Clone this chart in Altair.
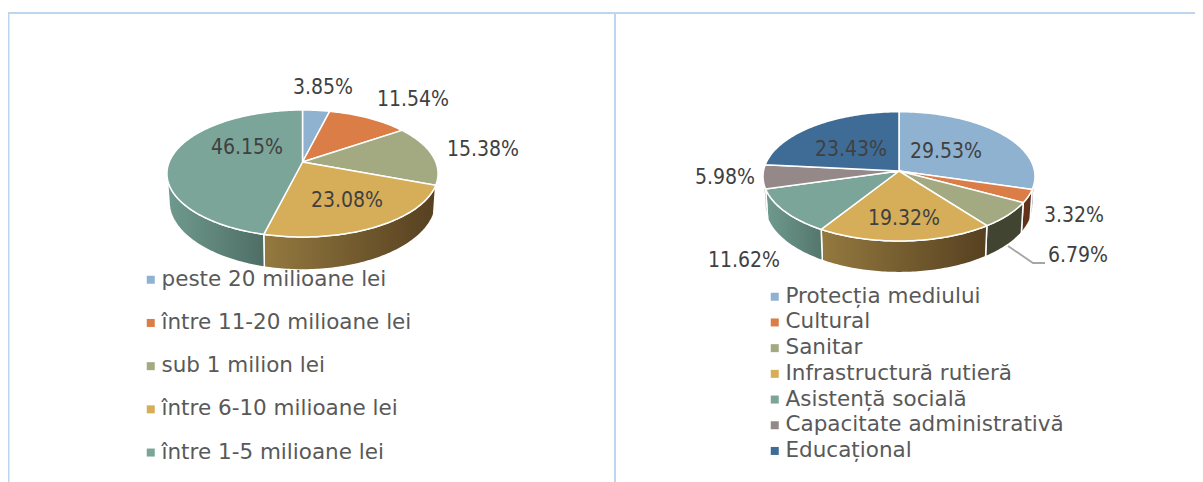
import math
import altair as alt

# ---- data
left_categories = ["peste 20 milioane lei", "între 11-20 milioane lei", "sub 1 milion lei",
                   "între 6-10 milioane lei", "între 1-5 milioane lei"]
left_values = [3.85, 11.54, 15.38, 23.08, 46.15]
right_categories = ["Protecția mediului", "Cultural", "Sanitar", "Infrastructură rutieră",
                    "Asistență socială", "Capacitate administrativă", "Educațional"]
right_values = [29.53, 3.32, 6.79, 19.32, 11.62, 5.98, 23.43]

# ---- styles
left_colors = ["#8FB2D0", "#DB7D46", "#A3AA82", "#D6AE5A", "#7AA598"]
right_colors = ["#8FB2D0", "#DB7D46", "#A3AA82", "#D6AE5A", "#7AA598", "#948888", "#3E6C96"]
left_walls = [("#55697B", "#55697B"), ("#6A3A1E", "#6A3A1E"), ("#40442F", "#40442F"),
              ("#94793F", "#564020"), ("#709A8E", "#4E6E65")]
right_walls = [("#55697B", "#55697B"), ("#62331A", "#62331A"), ("#404430", "#404430"),
               ("#94793F", "#564020"), ("#709A8E", "#54766C"), ("#6F6565", "#6F6565"),
               ("#2E506F", "#2E506F")]
FONT = "DejaVu Sans"
LABEL_FONT = "DejaVu Sans Condensed"
TEXT = "#404040"
LEG = "#595959"
FRAME = "#BDD6EE"
W, H = 1187, 474
OFF = 8  # page margin

# ---- layout (page coordinates)
left_geom = dict(cx=302.5, cy=162, a=133.3, b=61.4, k=0.181, depth=27)
right_geom = dict(cx=899, cy=171, a=135.5, b=64.2, k=0.083, depth=29)
left_label_pos = [(323, 88), (413, 100), (483, 150), (347, 201), (247, 148)]
right_label_pos = [(946, 152), (1074, 216), (1078, 256), (904, 219), (744, 261), (725, 178), (851, 150)]
leader = [(1008, 246), (1033, 263), (1045, 263)]


def rim(g, deg, lower=False):
    t = math.radians(deg)
    u, v = math.sin(t), math.cos(t)
    w = 1 + g["k"] * v
    s = 0.985 if lower else 1.0
    d = g["depth"] if lower else 0
    return [g["cx"] - OFF + s * g["a"] * u / w, g["cy"] - OFF + (d - g["b"] * v) / w]


def arc_range(d0, d1):
    n = max(2, int(abs(d1 - d0)) + 2)
    return [d0 + (d1 - d0) * i / (n - 1) for i in range(n)]


def bounds(values):
    total = sum(values)
    out, c = [], 0.0
    for x in values:
        out.append((c / total * 360, (c + x) / total * 360))
        c += x
    return out


def feature(ring, **props):
    return {"type": "Feature", "properties": props,
            "geometry": {"type": "Polygon", "coordinates": [ring + [ring[0]]]}}


def pie_layers(cats, values, colors, walls, g, label_pos, legend_xy, row_pad):
    layers = []
    lim0 = math.degrees(math.acos(-g["k"]))
    lim1 = 360 - lim0
    spans = bounds(values)
    for (d0, d1), stops in zip(spans, walls):
        a0, a1 = max(d0, lim0), min(d1, lim1)
        if a1 <= a0:
            continue
        top = [rim(g, d) for d in arc_range(a0, a1)]
        low = [rim(g, d, True) for d in arc_range(a1, a0)]
        grad = alt.LinearGradient(gradient="linear", x1=0, x2=1, y1=0, y2=0,
                                  stops=[alt.GradientStop(offset=0, color=stops[0]),
                                         alt.GradientStop(offset=1, color=stops[1])])
        layers.append(alt.Chart(alt.Data(values=[feature(top + low, kind="wall")]))
                      .mark_geoshape(fill=grad, stroke="#FFFFFF", strokeWidth=1.5)
                      .project(type="identity", scale=1, translate=[0, 0]))
    tops = []
    for cat, (d0, d1) in zip(cats, spans):
        ring = [[g["cx"] - OFF, g["cy"] - OFF]] + [rim(g, d) for d in arc_range(d0, d1)]
        tops.append(feature(ring, category=cat))
    layers.append(
        alt.Chart(alt.Data(values=tops))
        .mark_geoshape(stroke="#FFFFFF", strokeWidth=1.5)
        .encode(color=alt.Color(
            "properties.category:N",
            sort=cats,
            scale=alt.Scale(domain=cats, range=colors),
            legend=alt.Legend(
                title=None, orient="none", legendX=legend_xy[0] - OFF, legendY=legend_xy[1] - OFF,
                symbolType="square", symbolSize=64, symbolStrokeWidth=0,
                labelFont=FONT, labelFontSize=21.5, labelColor=LEG, labelOffset=0,
                rowPadding=row_pad, padding=0, labelLimit=400)))
        .project(type="identity", scale=1, translate=[0, 0]))
    rows = [{"t": f"{v:.2f}%", "px": p[0] - OFF, "py": p[1] - OFF} for v, p in zip(values, label_pos)]
    layers.append(
        alt.Chart(alt.Data(values=rows))
        .mark_text(font=LABEL_FONT, fontSize=21, color=TEXT, align="center", baseline="middle")
        .encode(x=alt.X("px:Q", scale=None, axis=None),
                y=alt.Y("py:Q", scale=None, axis=None),
                text="t:N"))
    return layers


frame_v = alt.Chart(alt.Data(values=[{"p": 0.5}, {"p": 607}])).mark_rule(color=FRAME, strokeWidth=2).encode(
    x=alt.X("p:Q", scale=None, axis=None), y=alt.value(5), y2=alt.value(H))
frame_h = alt.Chart(alt.Data(values=[{"p": 5}])).mark_rule(color=FRAME, strokeWidth=2).encode(
    y=alt.Y("p:Q", scale=None, axis=None), x=alt.value(0), x2=alt.value(W))
leader_line = alt.Chart(alt.Data(values=[{"px": p[0] - OFF, "py": p[1] - OFF, "o": i} for i, p in enumerate(leader)])).mark_line(
    color="#A6A6A6", strokeWidth=1.8).encode(
    x=alt.X("px:Q", scale=None, axis=None), y=alt.Y("py:Q", scale=None, axis=None), order="o:Q")

layers = [frame_v, frame_h, leader_line]
layers += pie_layers(left_categories, left_values, left_colors, left_walls, left_geom,
                     left_label_pos, (140, 269), 20.2)
layers += pie_layers(right_categories, right_values, right_colors, right_walls, right_geom,
                     right_label_pos, (764, 286), 2.7)

chart = (alt.layer(*layers)
         .resolve_scale(color="independent")
         .properties(width=W, height=H, padding=0,
                     autosize=alt.AutoSizeParams(type="none"))
         .configure_view(stroke=None))

chart.save("out.html", embed_options={"renderer": "svg", "actions": False})
